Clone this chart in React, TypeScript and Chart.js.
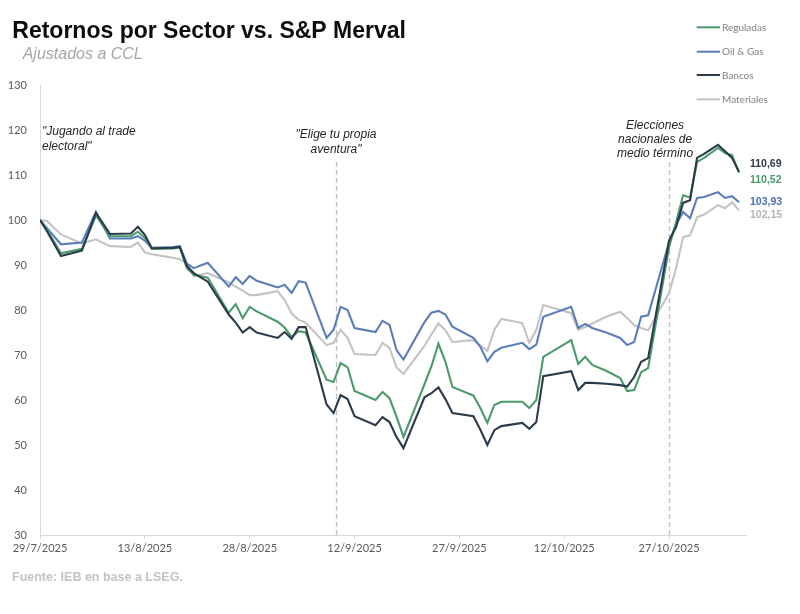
import React, { useEffect, useRef } from "react";
import { Chart, registerables } from "chart.js";
Chart.register(...registerables);

// ---------- data ----------
const dates = [
  "2025-07-29", "2025-07-30", "2025-08-01", "2025-08-04", "2025-08-06", "2025-08-08",
  "2025-08-11", "2025-08-12", "2025-08-13", "2025-08-14", "2025-08-17", "2025-08-18",
  "2025-08-19", "2025-08-20", "2025-08-22", "2025-08-25", "2025-08-26", "2025-08-27",
  "2025-08-28", "2025-08-29", "2025-09-01", "2025-09-02", "2025-09-03", "2025-09-04",
  "2025-09-05", "2025-09-08", "2025-09-09", "2025-09-10", "2025-09-11", "2025-09-12",
  "2025-09-15", "2025-09-16", "2025-09-17", "2025-09-18", "2025-09-19", "2025-09-22",
  "2025-09-23", "2025-09-24", "2025-09-25", "2025-09-26", "2025-09-29", "2025-09-30",
  "2025-10-01", "2025-10-02", "2025-10-03", "2025-10-06", "2025-10-07", "2025-10-08",
  "2025-10-09", "2025-10-13", "2025-10-14", "2025-10-15", "2025-10-16", "2025-10-18",
  "2025-10-20", "2025-10-21", "2025-10-22", "2025-10-23", "2025-10-24", "2025-10-27",
  "2025-10-28", "2025-10-29", "2025-10-30", "2025-10-31", "2025-11-01", "2025-11-03",
  "2025-11-04", "2025-11-05", "2025-11-06",
];

const bancos = [
  100, 97.5, 92, 93.2, 101.6, 96.9,
  97, 98.5, 96.7, 93.7, 93.8, 94,
  89.8, 88.2, 86.3, 79, 77.2, 75,
  76.2, 75, 73.8, 75.1, 73.6, 76.2,
  76.2, 59, 57.1, 61.1, 60.2, 56.4,
  54.4, 56.2, 55.1, 51.8, 49.3, 60.6,
  61.5, 62.8, 60.2, 57.1, 56.4, 53.4,
  50, 53.3, 54.2, 54.9, 53.6, 55.1,
  65.3, 66.4, 62.2, 63.8, 63.8, 63.6,
  63.3, 63, 65.1, 68.5, 69.3, 95.5,
  98.4, 103.8, 104.4, 113.8, 114.7, 116.7,
  115.3, 113.8, 110.69,
];

const reguladas = [
  100, 97.8, 92.6, 93.6, 101, 96.4,
  96.4, 97.4, 96, 93.6, 93.7, 93.9,
  89.3, 87.8, 87.2, 79.4, 81.3, 78.2,
  80.7, 79.7, 77.4, 76.1, 74, 75.3,
  75, 64.5, 64, 68.2, 67.3, 62,
  60, 61.8, 60.4, 56.3, 51.8, 63.5,
  67.5, 72.5, 68.5, 62.9, 61, 58.2,
  54.9, 58.9, 59.6, 59.6, 58.2, 60,
  69.6, 73.3, 68, 69.6, 67.8, 66.5,
  64.9, 62, 62.2, 66.2, 67.1, 94,
  99.5, 105.5, 105, 112.9, 113.8, 116,
  114.9, 114.4, 110.52,
];

const oilGas = [
  100, 98.2, 94.6, 95, 101.8, 95.9,
  95.9, 96.4, 95.4, 93.8, 94, 94.2,
  90.3, 89.3, 90.5, 85.2, 87.3, 85.8,
  87.6, 86.5, 85, 85.6, 83.8, 86.4,
  86.1, 73.8, 75.6, 80.7, 80, 76,
  75.1, 77.6, 76.7, 71.1, 69, 77.3,
  79.4, 79.8, 79, 76.3, 73.8, 71.8,
  68.6, 70.7, 71.6, 72.7, 71.3, 72.3,
  78.5, 80.7, 76, 76.9, 76, 75,
  73.8, 72.2, 72.9, 78.5, 78.8, 95.1,
  99, 101.8, 100.4, 104.9, 105.1, 106.2,
  104.9, 105.3, 103.93,
];

const materiales = [
  100, 99.8, 96.8, 94.8, 95.7, 94.2,
  94, 95, 92.8, 92.4, 91.6, 91.3,
  90.3, 87.5, 88.2, 86.1, 85.2, 84.3,
  83.3, 83.3, 84.2, 82.2, 79.2, 77.8,
  77.2, 72.2, 72.7, 75.6, 73.8, 70.2,
  70, 72.7, 71.6, 67.3, 65.8, 72,
  74.6, 77, 75.5, 72.9, 73.3, 72.1,
  70.9, 75.6, 78, 77.1, 72.7, 75.6,
  81.1, 79.3, 75.6, 76.2, 77, 78.5,
  79.6, 78.2, 76.6, 76, 75.5, 83.8,
  89.3, 96.2, 96.6, 100.6, 101.2, 103.3,
  102.6, 104, 102.15,
];

const seriesNames = ["Reguladas", "Oil & Gas", "Bancos", "Materiales"];
const endLabels = ["110,52", "103,93", "110,69", "102,15"];
const yTicks = { min: 30, max: 130, step: 10 };
const xTickStepDays = 15;
const xMaxDays = 101;
const eventDays = [42.35, 90];

const titleText = "Retornos por Sector vs. S&P Merval";
const subtitleText = "Ajustados a CCL";
const footerText = "Fuente: IEB en base a LSEG.";
const noteTrade = ["\"Jugando al trade", "electoral\""];
const noteAventura = ["\"Elige tu propia", "aventura\""];
const noteElecciones = ["Elecciones", "nacionales de", "medio término"];

// ---------- styles ----------
const COLORS = {
  Reguladas: "#4a9a6c",
  "Oil & Gas": "#5a7dbb",
  Bancos: "#2b3b4c",
  Materiales: "#c3c3c3",
};
const LABEL_COLORS = {
  Reguladas: "#4a9a6c",
  "Oil & Gas": "#4c6fae",
  Bancos: "#2b3b4c",
  Materiales: "#b5b5b5",
};
const LABEL_DY = { Reguladas: 7, "Oil & Gas": 0, Bancos: -8, Materiales: 5 };

const SANS = "'Liberation Sans', Arial, sans-serif";
const CAL = "Lato, 'Noto Sans', sans-serif";
const NARROW = "'Liberation Sans Narrow', 'Liberation Sans', Arial, sans-serif";

const BASE = Date.UTC(2025, 6, 29);
const dayOf = (iso: string) => {
  const [y, m, d] = iso.split("-").map(Number);
  return (Date.UTC(y, m - 1, d) - BASE) / 86400000;
};
const fmtDay = (v: number) => {
  const dt = new Date(BASE + v * 86400000);
  return `${dt.getUTCDate()}/${dt.getUTCMonth() + 1}/${dt.getUTCFullYear()}`;
};

const seriesValues: Record<string, number[]> = {
  Reguladas: reguladas,
  "Oil & Gas": oilGas,
  Bancos: bancos,
  Materiales: materiales,
};

export default function App() {
  const ref = useRef<HTMLCanvasElement | null>(null);

  useEffect(() => {
    if (!ref.current) return;
    const xs = dates.map(dayOf);
    const drawOrder = ["Bancos", "Reguladas", "Oil & Gas", "Materiales"];
    const datasets = drawOrder.map((name) => ({
      label: name,
      data: seriesValues[name].map((v, i) => ({ x: xs[i], y: v })),
      borderColor: (COLORS as any)[name],
      backgroundColor: (COLORS as any)[name],
      borderWidth: 2.1,
      pointRadius: 0,
      tension: 0,
      fill: false,
    }));

    const overlay = {
      id: "overlay",
      beforeDatasetsDraw(chart: any) {
        const { ctx, chartArea } = chart;
        const x = chart.scales.x;
        ctx.save();
        ctx.strokeStyle = "#bdbdbd";
        ctx.lineWidth = 1.3;
        ctx.setLineDash([5, 3]);
        for (const d of eventDays) {
          const px = Math.round(x.getPixelForValue(d)) + 0.5;
          ctx.beginPath();
          ctx.moveTo(px, 154);
          ctx.lineTo(px, chartArea.bottom);
          ctx.stroke();
        }
        ctx.restore();
      },
      afterDraw(chart: any) {
        const { ctx } = chart;
        const x = chart.scales.x;
        ctx.save();
        // title
        ctx.textBaseline = "alphabetic";
        ctx.textAlign = "left";
        ctx.fillStyle = "#0d0d0d";
        ctx.font = `bold 23px ${SANS}`;
        ctx.fillText(titleText, 4.3, 29.5);
        ctx.fillStyle = "#a6a6a6";
        ctx.font = `italic 16px ${SANS}`;
        ctx.fillText(subtitleText, 14.7, 51.3);

        // legend
        const legendY = [19.3, 43.7, 67, 91.3];
        ctx.textBaseline = "middle";
        ctx.font = `10px ${CAL}`;
        seriesNames.forEach((name, i) => {
          ctx.strokeStyle = (COLORS as any)[name];
          ctx.lineWidth = 2;
          ctx.beginPath();
          ctx.moveTo(688.7, legendY[i]);
          ctx.lineTo(712, legendY[i]);
          ctx.stroke();
          ctx.fillStyle = "#7f7f7f";
          ctx.fillText(name, 714, legendY[i] + 0.5);
        });

        // notes
        ctx.fillStyle = "#262626";
        ctx.font = `italic 12px ${SANS}`;
        ctx.textAlign = "left";
        noteTrade.forEach((t, i) => ctx.fillText(t, 34, 124 + i * 15));
        ctx.textAlign = "center";
        const e1 = x.getPixelForValue(eventDays[0]);
        noteAventura.forEach((t, i) => ctx.fillText(t, e1, 127 + i * 15));
        const e2 = x.getPixelForValue(eventDays[1]) - 14;
        noteElecciones.forEach((t, i) => ctx.fillText(t, e2, 118 + i * 13.6));

        // end labels
        ctx.textAlign = "left";
        ctx.font = `bold 10.5px ${NARROW}`;
        chart.data.datasets.forEach((ds: any, di: number) => {
          const meta = chart.getDatasetMeta(di);
          const last = meta.data[meta.data.length - 1];
          const name = ds.label;
          const idx = seriesNames.indexOf(name);
          ctx.fillStyle = (LABEL_COLORS as any)[name];
          ctx.fillText(endLabels[idx], last.x + 11, last.y + (LABEL_DY as any)[name]);
        });

        // footer
        ctx.fillStyle = "#c3c3c3";
        ctx.font = `bold 12.5px ${SANS}`;
        ctx.fillText(footerText, 4, 570);
        ctx.restore();
      },
    };

    const chart = new Chart(ref.current, {
      type: "line",
      data: { datasets },
      options: {
        animation: false,
        responsive: false,
        layout: { padding: { left: 0, right: 46, top: 77, bottom: 41 } },
        plugins: {
          legend: { display: false },
          tooltip: { enabled: false },
          title: { display: false },
        },
        scales: {
          x: {
            type: "linear",
            min: 0,
            max: xMaxDays,
            afterFit: (s: any) => {
              s.height = 30;
            },
            afterBuildTicks: (s: any) => {
              s.ticks = s.ticks.filter((t: any) => t.value % xTickStepDays === 0);
            },
            ticks: {
              stepSize: xTickStepDays,
              autoSkip: false,
              maxRotation: 0,
              padding: 3,
              color: "#595959",
              font: { family: CAL, size: 11 },
              callback: (v: any) => fmtDay(Number(v)),
            },
            grid: {
              display: true,
              drawOnChartArea: false,
              drawTicks: true,
              tickLength: 4,
              color: "#d9d9d9",
            },
            border: { display: true, color: "#d9d9d9" },
          },
          y: {
            min: yTicks.min,
            max: yTicks.max,
            afterFit: (s: any) => {
              s.width = 32;
            },
            ticks: {
              stepSize: yTicks.step,
              padding: 13,
              color: "#595959",
              font: { family: CAL, size: 11 },
            },
            grid: { display: true, drawOnChartArea: false, drawTicks: false, color: "#d9d9d9" },
            border: { display: true, color: "#d9d9d9" },
          },
        },
      } as any,
      plugins: [overlay],
    });
    return () => chart.destroy();
  }, []);

  return (
    <div style={{ position: "relative", width: 784, height: 598 }}>
      <canvas ref={ref} width={784} height={598} />
    </div>
  );
}
